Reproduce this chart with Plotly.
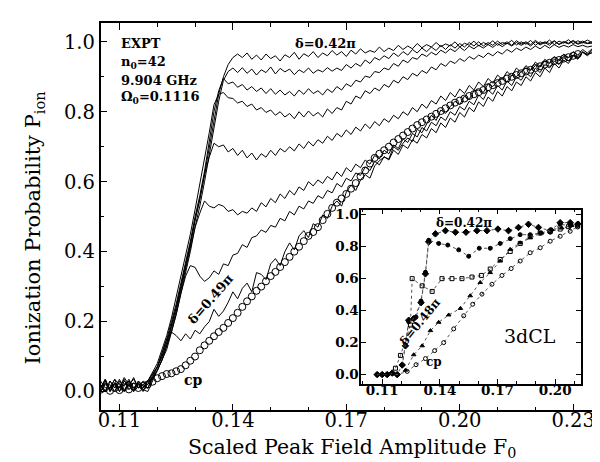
import plotly.graph_objects as go

# ---------------- main panel data (EXPT) ----------------
F_GRID = [0.10500, 0.10625, 0.10750, 0.10875, 0.11000, 0.11125, 0.11250, 0.11375, 0.11500, 0.11625,
          0.11750, 0.11875, 0.12000, 0.12125, 0.12250, 0.12375, 0.12500, 0.12625, 0.12750, 0.12875,
          0.13000, 0.13125, 0.13250, 0.13375, 0.13500, 0.13625, 0.13750, 0.13875, 0.14000, 0.14125,
          0.14250, 0.14375, 0.14500, 0.14625, 0.14750, 0.14875, 0.15000, 0.15125, 0.15250, 0.15375,
          0.15500, 0.15625, 0.15750, 0.15875, 0.16000, 0.16125, 0.16250, 0.16375, 0.16500, 0.16625,
          0.16750, 0.16875, 0.17000, 0.17125, 0.17250, 0.17375, 0.17500, 0.17625, 0.17750, 0.17875,
          0.18000, 0.18125, 0.18250, 0.18375, 0.18500, 0.18625, 0.18750, 0.18875, 0.19000, 0.19125,
          0.19250, 0.19375, 0.19500, 0.19625, 0.19750, 0.19875, 0.20000, 0.20125, 0.20250, 0.20375,
          0.20500, 0.20625, 0.20750, 0.20875, 0.21000, 0.21125, 0.21250, 0.21375, 0.21500, 0.21625,
          0.21750, 0.21875, 0.22000, 0.22125, 0.22250, 0.22375, 0.22500, 0.22625, 0.22750, 0.22875,
          0.23000, 0.23125, 0.23250, 0.23375, 0.23500]

P_d042 = [0.01, 0.035, 0.005, 0.025, 0.00, 0.03, 0.015, 0.04, 0.01, 0.02,
          0.03, 0.05, 0.07, 0.10, 0.14, 0.19, 0.24, 0.30, 0.36, 0.42,
          0.49, 0.55, 0.62, 0.70, 0.78, 0.85, 0.90, 0.935, 0.955, 0.965,
          0.955, 0.968, 0.950, 0.962, 0.948, 0.965, 0.952, 0.960, 0.945, 0.963,
          0.955, 0.970, 0.950, 0.966, 0.958, 0.972, 0.955, 0.968, 0.960, 0.975,
          0.962, 0.972, 0.958, 0.976, 0.965, 0.980, 0.968, 0.975, 0.970, 0.985,
          0.972, 0.982, 0.975, 0.990, 0.978, 0.988, 0.980, 0.995, 0.983, 0.992,
          0.985, 0.998, 0.986, 0.994, 0.988, 1.000, 0.985, 0.996, 0.990, 1.002,
          0.988, 0.998, 0.992, 1.003, 0.990, 0.998, 0.994, 1.004, 0.991, 1.000,
          0.993, 1.004, 0.990, 1.000, 0.995, 1.005, 0.992, 1.002, 0.996, 1.006,
          0.994, 1.003, 0.997, 1.005, 0.998]
P_d043 = [0.02, 0.00, 0.03, 0.01, 0.035, 0.005, 0.02, 0.00, 0.03, 0.015,
          0.02, 0.04, 0.06, 0.09, 0.12, 0.17, 0.22, 0.28, 0.34, 0.40,
          0.47, 0.53, 0.60, 0.68, 0.76, 0.83, 0.89, 0.915, 0.925, 0.912,
          0.926, 0.910, 0.922, 0.905, 0.920, 0.912, 0.928, 0.908, 0.924, 0.914,
          0.922, 0.906, 0.920, 0.912, 0.925, 0.910, 0.920, 0.914, 0.926, 0.916,
          0.925, 0.918, 0.935, 0.925, 0.938, 0.930, 0.948, 0.938, 0.955, 0.948,
          0.960, 0.952, 0.968, 0.958, 0.972, 0.962, 0.978, 0.968, 0.982, 0.972,
          0.985, 0.975, 0.990, 0.978, 0.992, 0.982, 0.995, 0.985, 0.998, 0.988,
          1.000, 0.988, 0.998, 0.990, 1.002, 0.992, 1.000, 0.990, 1.003, 0.994,
          1.000, 0.992, 1.004, 0.994, 1.000, 0.995, 1.003, 0.993, 1.001, 0.996,
          1.004, 0.995, 1.002, 0.996, 1.000]
P_d044 = [0.00, 0.025, 0.01, 0.035, 0.00, 0.02, 0.03, 0.005, 0.025, 0.01,
          0.03, 0.05, 0.07, 0.11, 0.15, 0.20, 0.25, 0.31, 0.37, 0.43,
          0.50, 0.56, 0.63, 0.72, 0.80, 0.86, 0.895, 0.880, 0.885, 0.870,
          0.878, 0.862, 0.872, 0.858, 0.868, 0.852, 0.866, 0.850, 0.862, 0.848,
          0.858, 0.845, 0.862, 0.850, 0.866, 0.852, 0.860, 0.848, 0.865, 0.855,
          0.872, 0.862, 0.880, 0.872, 0.890, 0.885, 0.902, 0.898, 0.915, 0.912,
          0.925, 0.920, 0.938, 0.930, 0.948, 0.940, 0.955, 0.950, 0.965, 0.958,
          0.970, 0.962, 0.976, 0.968, 0.980, 0.972, 0.985, 0.975, 0.988, 0.980,
          0.990, 0.982, 0.992, 0.984, 0.995, 0.986, 0.996, 0.988, 0.998, 0.990,
          0.997, 0.988, 1.000, 0.991, 0.998, 0.990, 1.002, 0.992, 0.999, 0.994,
          1.001, 0.993, 0.998, 0.995, 0.996]
P_d045 = [0.03, 0.01, 0.02, 0.00, 0.03, 0.015, 0.035, 0.01, 0.02, 0.00,
          0.03, 0.055, 0.08, 0.12, 0.16, 0.21, 0.27, 0.33, 0.39, 0.45,
          0.52, 0.59, 0.66, 0.74, 0.82, 0.85, 0.855, 0.840, 0.838, 0.825,
          0.830, 0.815, 0.822, 0.805, 0.812, 0.798, 0.805, 0.790, 0.800, 0.785,
          0.795, 0.780, 0.800, 0.785, 0.802, 0.788, 0.798, 0.785, 0.808, 0.795,
          0.812, 0.805, 0.830, 0.822, 0.845, 0.838, 0.860, 0.852, 0.868, 0.860,
          0.878, 0.870, 0.890, 0.882, 0.900, 0.892, 0.910, 0.902, 0.918, 0.910,
          0.928, 0.920, 0.938, 0.930, 0.945, 0.938, 0.952, 0.944, 0.958, 0.950,
          0.962, 0.955, 0.968, 0.960, 0.972, 0.965, 0.978, 0.970, 0.982, 0.975,
          0.985, 0.978, 0.988, 0.980, 0.990, 0.982, 0.992, 0.984, 0.990, 0.985,
          0.992, 0.986, 0.990, 0.985, 0.988]
P_d046 = [0.01, 0.03, 0.00, 0.02, 0.01, 0.035, 0.005, 0.025, 0.01, 0.03,
          0.02, 0.045, 0.07, 0.10, 0.14, 0.19, 0.24, 0.30, 0.36, 0.42,
          0.49, 0.55, 0.62, 0.67, 0.71, 0.70, 0.705, 0.685, 0.695, 0.675,
          0.690, 0.668, 0.682, 0.662, 0.680, 0.670, 0.690, 0.675, 0.695, 0.685,
          0.700, 0.688, 0.708, 0.695, 0.715, 0.702, 0.720, 0.710, 0.730, 0.718,
          0.738, 0.728, 0.748, 0.735, 0.756, 0.745, 0.765, 0.752, 0.772, 0.760,
          0.780, 0.770, 0.790, 0.780, 0.800, 0.790, 0.812, 0.800, 0.822, 0.810,
          0.832, 0.822, 0.845, 0.832, 0.855, 0.842, 0.865, 0.852, 0.875, 0.862,
          0.885, 0.872, 0.895, 0.882, 0.905, 0.892, 0.915, 0.902, 0.925, 0.912,
          0.932, 0.920, 0.942, 0.930, 0.950, 0.940, 0.958, 0.948, 0.965, 0.955,
          0.972, 0.962, 0.978, 0.968, 0.980]
P_d047 = [0.02, 0.00, 0.03, 0.01, 0.025, 0.00, 0.02, 0.035, 0.01, 0.02,
          0.01, 0.035, 0.06, 0.09, 0.13, 0.18, 0.23, 0.29, 0.35, 0.41,
          0.47, 0.51, 0.545, 0.530, 0.525, 0.535, 0.530, 0.515, 0.520, 0.505,
          0.515, 0.510, 0.525, 0.515, 0.540, 0.528, 0.552, 0.540, 0.565, 0.552,
          0.575, 0.562, 0.585, 0.575, 0.600, 0.588, 0.605, 0.595, 0.615, 0.605,
          0.628, 0.615, 0.640, 0.628, 0.650, 0.640, 0.662, 0.650, 0.675, 0.665,
          0.690, 0.680, 0.705, 0.695, 0.722, 0.712, 0.738, 0.728, 0.755, 0.745,
          0.770, 0.760, 0.785, 0.775, 0.800, 0.790, 0.815, 0.805, 0.830, 0.820,
          0.848, 0.835, 0.862, 0.850, 0.875, 0.862, 0.888, 0.875, 0.900, 0.890,
          0.912, 0.900, 0.925, 0.912, 0.935, 0.925, 0.945, 0.935, 0.955, 0.945,
          0.962, 0.952, 0.970, 0.960, 0.972]
P_d048 = [0.00, 0.02, 0.01, 0.035, 0.02, 0.00, 0.03, 0.01, 0.025, 0.005,
          0.00, 0.03, 0.06, 0.09, 0.13, 0.17, 0.22, 0.28, 0.33, 0.36,
          0.355, 0.330, 0.315, 0.325, 0.345, 0.335, 0.365, 0.360, 0.390, 0.395,
          0.420, 0.412, 0.440, 0.445, 0.462, 0.455, 0.475, 0.470, 0.495, 0.488,
          0.515, 0.505, 0.530, 0.522, 0.545, 0.538, 0.560, 0.552, 0.575, 0.568,
          0.595, 0.585, 0.610, 0.602, 0.625, 0.618, 0.642, 0.632, 0.658, 0.648,
          0.672, 0.662, 0.690, 0.678, 0.705, 0.695, 0.720, 0.710, 0.735, 0.725,
          0.752, 0.740, 0.768, 0.755, 0.782, 0.770, 0.798, 0.785, 0.812, 0.800,
          0.828, 0.815, 0.842, 0.830, 0.858, 0.845, 0.872, 0.860, 0.885, 0.875,
          0.900, 0.888, 0.912, 0.900, 0.925, 0.912, 0.938, 0.925, 0.948, 0.938,
          0.960, 0.950, 0.972, 0.962, 0.978]
P_d049 = [0.01, 0.035, 0.00, 0.025, 0.01, 0.04, 0.02, 0.00, 0.03, 0.015,
          0.01, 0.04, 0.07, 0.11, 0.15, 0.17, 0.16, 0.145, 0.165, 0.150,
          0.175, 0.165, 0.185, 0.200, 0.235, 0.215, 0.230, 0.255, 0.285, 0.265,
          0.295, 0.310, 0.285, 0.340, 0.335, 0.320, 0.365, 0.380, 0.360, 0.400,
          0.425, 0.405, 0.445, 0.460, 0.440, 0.480, 0.470, 0.505, 0.495, 0.530,
          0.545, 0.530, 0.570, 0.590, 0.575, 0.605, 0.620, 0.610, 0.645, 0.660,
          0.670, 0.665, 0.700, 0.690, 0.710, 0.725, 0.715, 0.750, 0.740, 0.765,
          0.790, 0.775, 0.805, 0.795, 0.815, 0.830, 0.820, 0.845, 0.835, 0.860,
          0.862, 0.855, 0.880, 0.872, 0.888, 0.895, 0.885, 0.905, 0.900, 0.915,
          0.925, 0.918, 0.932, 0.928, 0.945, 0.938, 0.950, 0.945, 0.958, 0.955,
          0.962, 0.958, 0.970, 0.965, 0.968]

CP_F = F_GRID[:102]
CP_P = [0.005, 0.012, 0.002, 0.010, 0.004, 0.012, 0.006, 0.014, 0.010, 0.016,
        0.020, 0.028, 0.038, 0.044, 0.050, 0.052, 0.058, 0.064, 0.075, 0.088,
        0.100, 0.118, 0.132, 0.145, 0.158, 0.170, 0.182, 0.196, 0.210, 0.225,
        0.242, 0.258, 0.272, 0.288, 0.300, 0.315, 0.330, 0.342, 0.356, 0.370,
        0.385, 0.400, 0.414, 0.430, 0.445, 0.456, 0.470, 0.490, 0.508, 0.525,
        0.540, 0.552, 0.565, 0.580, 0.596, 0.615, 0.632, 0.652, 0.668, 0.680,
        0.690, 0.700, 0.712, 0.722, 0.732, 0.742, 0.752, 0.762, 0.770, 0.778,
        0.786, 0.794, 0.802, 0.810, 0.818, 0.826, 0.832, 0.838, 0.845, 0.850,
        0.856, 0.862, 0.870, 0.876, 0.882, 0.888, 0.895, 0.900, 0.905, 0.910,
        0.915, 0.920, 0.925, 0.930, 0.935, 0.940, 0.945, 0.948, 0.952, 0.956,
        0.960, 0.965]

MAIN_LINES = [P_d042, P_d043, P_d044, P_d045, P_d046, P_d047, P_d048, P_d049]
for s in MAIN_LINES:
    assert len(s) == len(F_GRID), len(s)
assert len(CP_F) == len(CP_P)

# ---------------- inset data (3dCL) ----------------
IA_F = [0.1074, 0.1100, 0.1126, 0.1152, 0.1178, 0.1204, 0.1221, 0.1238, 0.1264, 0.1302,
        0.1325, 0.1342, 0.1377, 0.1429, 0.1481, 0.1536, 0.1593, 0.1645, 0.1702, 0.1757,
        0.1809, 0.1861, 0.1913, 0.1974, 0.2026, 0.2078, 0.2117]
IA_P = [0.00, 0.00, 0.00, 0.01, 0.00, 0.06, 0.18, 0.34, 0.35, 0.45,
        0.63, 0.83, 0.88, 0.90, 0.89, 0.89, 0.90, 0.90, 0.91, 0.90,
        0.92, 0.94, 0.92, 0.90, 0.95, 0.95, 0.94]
IB_F = [0.1204, 0.1238, 0.1276, 0.1302, 0.1325, 0.1342, 0.1394, 0.1441, 0.1498, 0.1550,
        0.1605, 0.1662, 0.1714, 0.1766, 0.1818, 0.1870, 0.1922, 0.1974, 0.2026, 0.2078, 0.2117]
IB_P = [0.06, 0.33, 0.36, 0.46, 0.64, 0.84, 0.82, 0.81, 0.78, 0.74,
        0.79, 0.79, 0.82, 0.85, 0.875, 0.875, 0.885, 0.89, 0.94, 0.93, 0.94]
IC_F = [0.1169, 0.1195, 0.1247, 0.1256, 0.1308, 0.1360, 0.1411, 0.1463, 0.1515, 0.1567,
        0.1616, 0.1662, 0.1714, 0.1766, 0.1818, 0.1870, 0.1922, 0.1974, 0.2026, 0.2069, 0.2117]
IC_P = [0.04, 0.12, 0.31, 0.60, 0.555, 0.52, 0.60, 0.60, 0.60, 0.61,
        0.62, 0.66, 0.72, 0.77, 0.82, 0.865, 0.885, 0.895, 0.91, 0.925, 0.93]
ID_F = [0.1221, 0.1264, 0.1308, 0.1351, 0.1394, 0.1446, 0.1507, 0.1558, 0.1610, 0.1662,
        0.1714, 0.1766, 0.1818, 0.1870, 0.1930, 0.1982, 0.2034, 0.2086, 0.2121]
ID_P = [0.027, 0.124, 0.18, 0.275, 0.327, 0.373, 0.414, 0.493, 0.576, 0.638,
        0.71, 0.783, 0.824, 0.855, 0.886, 0.907, 0.917, 0.932, 0.948]
IE_F = [0.1074, 0.1100, 0.1126, 0.1152, 0.1178, 0.1230, 0.1276, 0.1325, 0.1373, 0.1420,
        0.1472, 0.1524, 0.1571, 0.1619, 0.1671, 0.1723, 0.1771, 0.1818, 0.1870, 0.1922,
        0.1974, 0.2026, 0.2078, 0.2117]
IE_P = [0.00, 0.00, 0.00, 0.006, 0.00, 0.02, 0.062, 0.10, 0.15, 0.20,
        0.286, 0.368, 0.44, 0.503, 0.565, 0.62, 0.663, 0.71, 0.762, 0.793,
        0.834, 0.865, 0.896, 0.923]

X_TICKS = [0.11, 0.14, 0.17, 0.20, 0.23]
X_TICKTEXT = ["0.11", "0.14", "0.17", "0.20", "0.23"]
Y_TICKS = [0.0, 0.2, 0.4, 0.6, 0.8, 1.0]
Y_TICKTEXT = ["0.0", "0.2", "0.4", "0.6", "0.8", "1.0"]
IX_TICKS = [0.11, 0.14, 0.17, 0.20]
IX_TICKTEXT = ["0.11", "0.14", "0.17", "0.20"]

W, H = 600, 462
def px(x):
    return x / W
def py(y):
    return 1 - y / H

SERIF = "DejaVu Serif"
fig = go.Figure()

for s in MAIN_LINES:
    fig.add_trace(go.Scatter(x=F_GRID, y=s, mode="lines",
                             line=dict(color="black", width=1),
                             xaxis="x", yaxis="y", showlegend=False, hoverinfo="skip"))
fig.add_trace(go.Scatter(x=CP_F, y=CP_P, mode="markers",
                         marker=dict(symbol="circle-open", size=7, color="black",
                                     line=dict(width=1, color="black")),
                         xaxis="x", yaxis="y", showlegend=False))

inset_series = [
    (IA_F, IA_P, "diamond", 5),
    (IB_F, IB_P, "circle", 4),
    (IC_F, IC_P, "square-open", 4),
    (ID_F, ID_P, "triangle-up", 4),
    (IE_F, IE_P, "circle-open", 4),
]
for fx, fy, sym, sz in inset_series:
    fig.add_trace(go.Scatter(x=fx, y=fy, mode="lines+markers",
                             line=dict(color="#555555", width=1, dash="dot"),
                             marker=dict(symbol=sym, size=sz, color="black",
                                         line=dict(width=1, color="black")),
                             xaxis="x2", yaxis="y2", showlegend=False, cliponaxis=False))

axis_common = dict(showline=True, linecolor="black", linewidth=1.5, mirror="allticks",
                   ticks="inside", tickcolor="black", showgrid=False, zeroline=False)

fig.update_layout(
    width=W, height=H,
    margin=dict(l=0, r=0, t=0, b=0),
    paper_bgcolor="white", plot_bgcolor="white",
    showlegend=False,
    xaxis=dict(domain=[px(90), px(596)], range=[0.105, 0.23816], anchor="y",
               tickvals=X_TICKS, ticktext=X_TICKTEXT, ticklen=7, tickwidth=1.2,
               tickfont=dict(family=SERIF, size=19.5, color="black"),
               ticklabelstandoff=-9,
               minor=dict(ticks="inside", ticklen=4, tickwidth=1,
                          tickvals=[0.12, 0.13, 0.15, 0.16, 0.18, 0.19, 0.21, 0.22]),
               **axis_common),
    yaxis=dict(domain=[py(402), py(12)], range=[-0.054, 1.054], anchor="x",
               tickvals=Y_TICKS, ticktext=Y_TICKTEXT, ticklen=7, tickwidth=1.2,
               tickfont=dict(family=SERIF, size=19.5, color="black"),
               minor=dict(ticks="inside", ticklen=4, tickwidth=1,
                          tickvals=[0.1, 0.3, 0.5, 0.7, 0.9]),
               **axis_common),
    xaxis2=dict(domain=[px(352), px(573)], range=[0.0991, 0.2135], anchor="y2",
                tickvals=IX_TICKS, ticktext=IX_TICKTEXT, ticklen=5, tickwidth=1,
                tickfont=dict(family=SERIF, size=13.5, color="black", weight="bold"),
                ticklabelstandoff=-7,
                minor=dict(ticks="inside", ticklen=3, tickwidth=1,
                           tickvals=[0.10, 0.12, 0.13, 0.15, 0.16, 0.18, 0.19, 0.21]),
                **axis_common),
    yaxis2=dict(domain=[py(375), py(200)], range=[-0.056, 1.031], anchor="x2",
                tickvals=Y_TICKS, ticktext=Y_TICKTEXT, ticklen=5, tickwidth=1,
                tickfont=dict(family=SERIF, size=13.5, color="black", weight="bold"),
                ticklabelstandoff=-2,
                **axis_common),
)

def note(text, x, y, size, bold=False, angle=0, xanchor="center"):
    fig.add_annotation(text=text, x=px(x), y=py(y), xref="paper", yref="paper",
                       showarrow=False, textangle=angle, xanchor=xanchor, yanchor="middle",
                       font=dict(family=SERIF, size=size, color="black",
                                 weight="bold" if bold else "normal"))

note("Scaled Peak Field Amplitude F<sub>0</sub>", 343, 440, 20.5)
note("Ionization Probability P<sub>ion</sub>", 23, 218, 21, angle=-90)
note("EXPT", 109, 33, 13, bold=True, xanchor="left")
note("n<sub>0</sub>=42", 109, 52, 13, bold=True, xanchor="left")
note("9.904 GHz", 109, 70, 13, bold=True, xanchor="left")
note("Ω<sub>0</sub>=0.1116", 109, 87, 13, bold=True, xanchor="left")
note("δ=0.42π", 316, 33, 13, bold=True)
note("δ=0.49π", 200, 290, 13, bold=True, angle=-49)
note("cp", 183, 371, 14, bold=True)
note("δ=0.42π", 455, 213, 12, bold=True)
note("δ=0.48π", 411, 313, 12, bold=True, angle=-51)
note("3dCL", 522, 327, 19)
note("cp", 425, 353, 12, bold=True)

fig.write_html("out.html")
